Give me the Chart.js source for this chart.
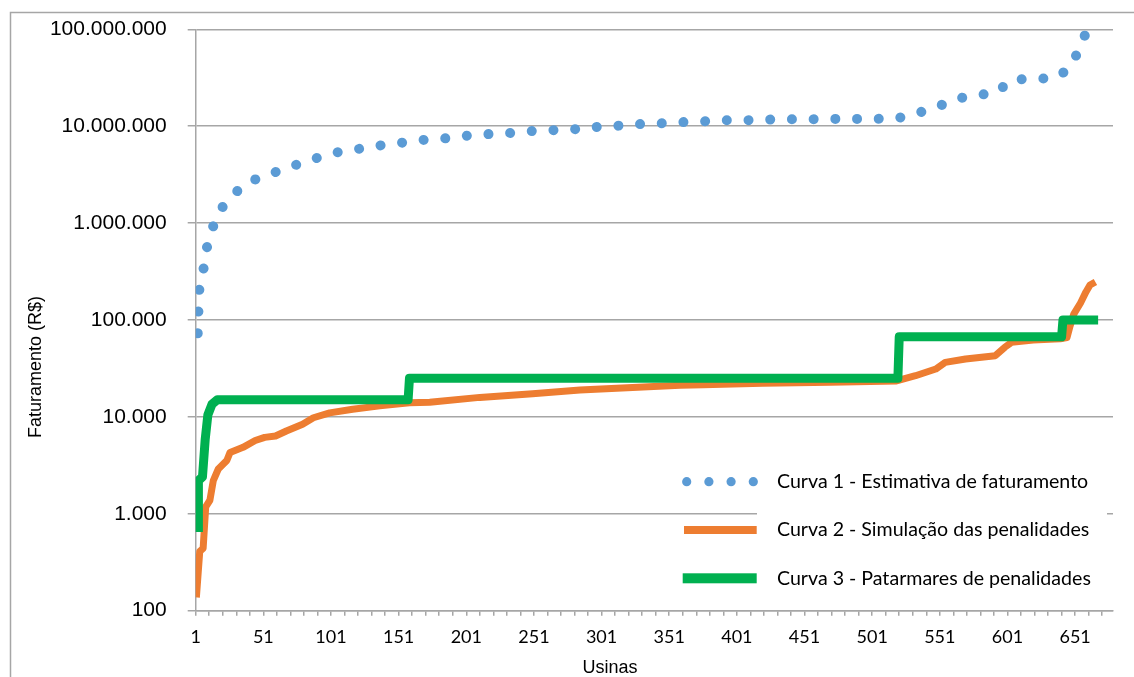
<!DOCTYPE html>
<html>
<head>
<meta charset="utf-8">
<script src="https://cdn.jsdelivr.net/npm/chart.js@4/dist/chart.umd.min.js"></script>
<style>
  html, body { margin: 0; padding: 0; background: #fff; }
  #wrap { width: 1134px; height: 677px; position: relative; }
</style>
</head>
<body>
<div id="wrap"><canvas id="c" width="1134" height="677"></canvas></div>
<script>
// Curva 1 - Estimativa de faturamento (R$) por usina
const curva1Usina = [2.5, 3, 3.7, 6.6, 8.9, 13, 18.4, 28, 38.5, 52.5, 66.5, 80.5, 94.5, 108.5, 124, 139.5, 155, 170.5, 186, 202, 218, 233, 249, 265, 281, 296, 312, 328, 344, 360, 375, 391, 407, 423, 439, 455, 471, 487, 503, 519, 534, 549, 562, 577, 593, 603, 619, 635, 646, 653, 659];
const curva1Valor = [73000, 122000, 205000, 324000, 535000, 860000, 1330000, 1930000, 2580000, 3120000, 3600000, 4250000, 4900000, 5500000, 5900000, 6400000, 6800000, 7250000, 7500000, 8000000, 8300000, 8500000, 8900000, 9100000, 9300000, 9800000, 10100000, 10500000, 10700000, 11000000, 11200000, 11500000, 11500000, 11700000, 11800000, 11800000, 11900000, 11900000, 11900000, 12000000, 13600000, 15800000, 19000000, 20900000, 22000000, 30000000, 31000000, 31000000, 38500000, 57800000, 92000000];

// Curva 2 - Simulação das penalidades
const curva2Usina = [1.5, 4, 6.5, 8.4, 11.5, 14, 17.7, 24, 26.4, 36, 45, 52, 60, 68, 80, 88, 100, 117, 137, 159, 174, 211, 250, 285, 320, 359, 376, 420, 470, 519, 533, 548, 555, 570, 592, 599, 604, 620, 640, 645, 647, 650, 655, 659, 662, 666];
const curva2Valor = [137, 410, 440, 1180, 1380, 2200, 2900, 3550, 4300, 4850, 5700, 6150, 6350, 7150, 8400, 9800, 11000, 12000, 13000, 14000, 14200, 15900, 17300, 18900, 20000, 21200, 21500, 22200, 22800, 23500, 26600, 31200, 36500, 39600, 42800, 52300, 58800, 62000, 64000, 66000, 84000, 115000, 150000, 195000, 230000, 247000];

// Curva 3 - Patamares de penalidades
const curva3Usina = [3, 3, 6, 8, 10, 13, 17, 158, 159, 520, 521, 641, 642, 668];
const curva3Valor = [650, 2200, 2400, 5800, 10500, 13500, 15000, 15000, 25000, 25000, 67000, 67000, 100000, 100000];

const seriesNames = [
  'Curva 1 - Estimativa de faturamento',
  'Curva 2 - Simulação das penalidades',
  'Curva 3 - Patarmares de penalidades'
];

// Axis labels
const xTickLabels = ['1', '51', '101', '151', '201', '251', '301', '351', '401', '451', '501', '551', '601', '651'];
const yTickValues = [100, 1000, 10000, 100000, 1000000, 10000000, 100000000];
const yTickLabels = ['100', '1.000', '10.000', '100.000', '1.000.000', '10.000.000', '100.000.000'];
const xTitle = 'Usinas';
const yTitle = 'Faturamento (R$)';

const toPoints = (xs, ys) => xs.map((x, i) => ({ x: x, y: ys[i] }));

const GRID = '#a6a6a6';
const COLORS = ['#5b9bd5', '#ed7d31', '#00b050'];

// tick marks every 10 plants along the category axis
const xTickMarks = [];
for (let v = 1; v <= 671; v += 10) xTickMarks.push(v);

const framePlugin = {
  id: 'frameAndLegend',
  beforeDraw(chart) {
    const ctx = chart.ctx;
    ctx.save();
    ctx.fillStyle = '#fff';
    ctx.fillRect(0, 0, chart.width, chart.height);
    ctx.strokeStyle = GRID;
    ctx.lineWidth = 1.5;
    ctx.beginPath();
    ctx.moveTo(10.5, chart.height);
    ctx.lineTo(10.5, 12.5);
    ctx.lineTo(chart.width, 12.5);
    ctx.stroke();
    ctx.restore();
  },
  afterDraw(chart) {
    const ctx = chart.ctx;
    ctx.save();
    // axis titles
    ctx.fillStyle = '#000';
    ctx.font = '18px "Liberation Sans", Arial, sans-serif';
    ctx.textAlign = 'center';
    ctx.textBaseline = 'middle';
    ctx.fillText(xTitle, 610, 668);
    ctx.save();
    ctx.translate(36, 367);
    ctx.rotate(-Math.PI / 2);
    ctx.fillText(yTitle, 0, 0);
    ctx.restore();

    // legend box
    ctx.fillStyle = '#fff';
    ctx.fillRect(757, 460, 350, 140);

    const ds = chart.data.datasets;
    const rows = [481.7, 530, 578.3];
    // row 1: dotted key
    ctx.fillStyle = ds[0].borderColor;
    [686.7, 708.9, 731.1, 753.3].forEach(cx => {
      ctx.beginPath();
      ctx.arc(cx, rows[0], 4.6, 0, Math.PI * 2);
      ctx.fill();
    });
    // row 2 and 3: solid keys
    ctx.fillStyle = ds[1].borderColor;
    ctx.fillRect(684, rows[1] - 4, 72.7, 8);
    ctx.fillStyle = ds[2].borderColor;
    ctx.fillRect(682.7, rows[2] - 5, 74, 10);

    ctx.fillStyle = '#000';
    ctx.font = '19.6px Lato, "Open Sans", sans-serif';
    ctx.textAlign = 'left';
    ctx.textBaseline = 'middle';
    ds.forEach((d, i) => ctx.fillText(d.label, 777, rows[i]));
    ctx.restore();
  }
};

new Chart(document.getElementById('c'), {
  type: 'line',
  data: {
    datasets: [
      {
        label: seriesNames[0],
        data: toPoints(curva1Usina, curva1Valor),
        borderColor: COLORS[0],
        borderWidth: 10,
        borderDash: [0.01, 21.7],
        borderCapStyle: 'round',
        borderJoinStyle: 'round',
        pointRadius: 0,
        fill: false,
        order: 3
      },
      {
        label: seriesNames[1],
        data: toPoints(curva2Usina, curva2Valor),
        borderColor: COLORS[1],
        borderWidth: 7,
        borderJoinStyle: 'round',
        pointRadius: 0,
        fill: false,
        order: 2
      },
      {
        label: seriesNames[2],
        data: toPoints(curva3Usina, curva3Valor),
        borderColor: COLORS[2],
        borderWidth: 9,
        borderJoinStyle: 'round',
        pointRadius: 0,
        fill: false,
        order: 1
      }
    ]
  },
  options: {
    responsive: false,
    animation: false,
    devicePixelRatio: 1,
    layout: { padding: { left: 0, top: 29.3, right: 21, bottom: 0 } },
    plugins: { legend: { display: false }, tooltip: { enabled: false } },
    scales: {
      x: {
        type: 'linear',
        position: 'bottom',
        min: 1,
        max: 679,
        afterBuildTicks: s => { s.ticks = xTickMarks.map(v => ({ value: v })); },
        afterFit: s => { s.height = 66.3; s.paddingLeft = 0; s.paddingRight = 0; },
        ticks: {
          autoSkip: false,
          maxRotation: 0,
          padding: 11,
          color: '#000',
          font: { family: 'Lato', size: 18 },
          callback: v => (xTickLabels.includes(String(v)) ? String(v) : '')
        },
        grid: { drawOnChartArea: false, drawTicks: true, tickLength: 5, color: GRID, lineWidth: 1.5 },
        border: { color: GRID, width: 1.5 }
      },
      y: {
        type: 'logarithmic',
        min: 100,
        max: 100000000,
        afterBuildTicks: s => { s.ticks = yTickValues.map(v => ({ value: v })); },
        afterFit: s => { s.width = 195.7; s.paddingTop = 0; s.paddingBottom = 0; },
        ticks: {
          padding: 21,
          color: '#000',
          font: { family: '"Liberation Sans"', size: 21 },
          callback: (v, i) => yTickLabels[i]
        },
        grid: { color: GRID, lineWidth: 1.5, tickLength: 8 },
        border: { color: GRID, width: 1.5 }
      }
    }
  },
  plugins: [framePlugin]
});
</script>
</body>
</html>
